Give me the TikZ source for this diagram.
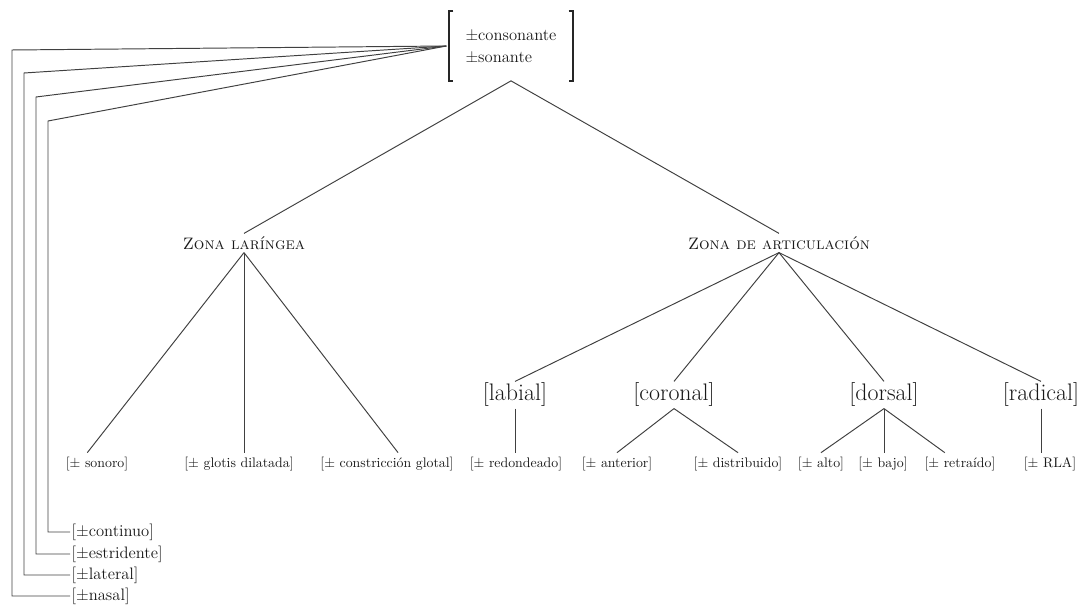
\documentclass[tikz,border=0pt]{standalone}
\usepackage{fontspec}
\begin{document}
\begin{tikzpicture}[
        x=0.0254cm, y=-0.0254cm,
        every node/.style={text=black!90},
        rama/.style={draw=black!75, line width=0.7pt},
        corchete/.style={draw=black!85, line width=1.2pt},
        zona/.style={font=\large\scshape, inner sep=2pt},
        clase/.style={font=\LARGE, inner sep=1pt},
        hoja/.style={font=\normalsize, inner sep=3pt},
        rasgo/.style={font=\large, inner sep=1pt, anchor=west}
    ]
    \useasboundingbox (0,0) rectangle (1084,608);

    % Raiz
    \node [align=left, font=\large, minimum width=89pt, minimum height=50pt] (raiz) at (511,46) {±consonante\\[2pt]±sonante};
    \draw [corchete] ([xshift=3pt]raiz.north west) -- (raiz.north west) -- (raiz.south west) -- ++(3pt,0);
    \draw [corchete] ([xshift=-3pt]raiz.north east) -- (raiz.north east) -- (raiz.south east) -- ++(-3pt,0);
    \coordinate (conv) at ([xshift=-2pt]raiz.west);

    % Zonas
    \node [zona] (zl) at (244,243) {Zona laríngea};
    \node [zona] (za) at (779,243) {Zona de articulación};

    % Articuladores
    \node [clase] (labial) at (515,395) {[labial]};
    \node [clase] (coronal) at (674,395) {[coronal]};
    \node [clase] (dorsal) at (884,395) {[dorsal]};
    \node [clase] (radical) at (1041,395) {[radical]};

    % Rasgos terminales
    \node [hoja] (sonoro) at (97,464) {[± sonoro]};
    \node [hoja] (glotis) at (239,464) {[± glotis dilatada]};
    \node [hoja] (constriccion) at (387,464) {[± constricción glotal]};
    \node [hoja] (redondeado) at (516,464) {[± redondeado]};
    \node [hoja] (anterior) at (617,464) {[± anterior]};
    \node [hoja] (distribuido) at (738,464) {[± distribuido]};
    \node [hoja] (alto) at (821,464) {[± alto]};
    \node [hoja] (bajo) at (883,464) {[± bajo]};
    \node [hoja] (retraido) at (960,464) {[± retraído]};
    \node [hoja] (rla) at (1050,464) {[± RLA]};

    % Rasgos de la raiz
    \node [rasgo] (continuo) at (70,532) {[±continuo]};
    \node [rasgo] (estridente) at (70,554) {[±estridente]};
    \node [rasgo] (lateral) at (70,575) {[±lateral]};
    \node [rasgo] (nasal) at (70,596) {[±nasal]};

    % Conexiones
    \foreach \r/\xx/\yy in {nasal/12/50, lateral/24/73, estridente/36/97, continuo/48/121}
        \draw [rama] (\r.west) -| (\xx,\yy) -- (conv);
    \draw [rama] (raiz.south) -- (zl.north);
    \draw [rama] (raiz.south) -- (za.north);
    \draw [rama] (zl.south) -- ([xshift=-7pt]sonoro.north);
    \draw [rama] (zl.south) -- (zl.south |- glotis.north);
    \draw [rama] (zl.south) -- ([xshift=8pt]constriccion.north);
    \foreach \c in {labial, coronal, dorsal, radical}
        \draw [rama] (za.south) -- (\c.north);
    \draw [rama] (labial.south) -- (labial.south |- redondeado.north);
    \foreach \h in {anterior, distribuido}
        \draw [rama] (coronal.south) -- (\h.north);
    \draw [rama] (dorsal.south) -- (alto.north);
    \draw [rama] (dorsal.south) -- (dorsal.south |- bajo.north);
    \draw [rama] (dorsal.south) -- ([xshift=-11pt]retraido.north);
    \draw [rama] (radical.south) -- (radical.south |- rla.north);
\end{tikzpicture}
\end{document}
